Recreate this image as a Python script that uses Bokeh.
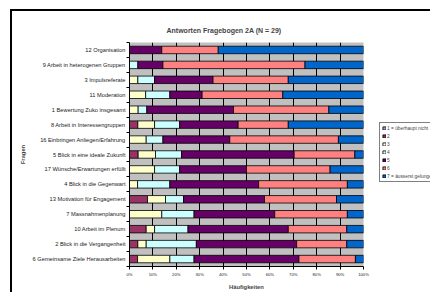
from bokeh.plotting import figure
from bokeh.models import (Range1d, Legend, LegendItem, NumeralTickFormatter,
                          FixedTicker, ColumnDataSource, LinearAxis, CustomJSTickFormatter)
from bokeh.embed import file_html
from bokeh.resources import INLINE

# Questions, top to bottom as shown
categories = [
    "12 Organisation",
    "9 Arbeit in heterogenen Gruppen",
    "3 Impulsreferate",
    "11 Moderation",
    "1 Bewertung Zuko insgesamt",
    "8 Arbeit in Interessengruppen",
    "16 Einbringen Anliegen/Erfahrung",
    "5 Blick in eine ideale Zukunft",
    "17 Wünsche/Erwartungen erfüllt",
    "4 Blick in die Gegenwart",
    "13 Motivation für Engagement",
    "7 Massnahmenplanung",
    "10 Arbeit im Plenum",
    "2 Blick in die Vergangenheit",
    "6 Gemeinsame Ziele Herausarbeiten",
]

# answer counts per rating (1..7), same order as categories
s1 = [0, 0, 0, 0, 0, 0, 0, 0, 0, 0, 0, 0, 0, 0, 0]
s2 = [0, 0, 0, 0, 0, 1, 0, 1, 0, 0, 2, 0, 2, 1, 1]
s3 = [0, 0, 1, 2, 1, 2, 2, 2, 3, 1, 2, 4, 1, 1, 4]
s4 = [0, 1, 2, 3, 1, 3, 2, 3, 3, 4, 2, 4, 4, 6, 3]
s5 = [4, 3, 7, 4, 10, 7, 8, 13, 8, 11, 9, 10, 12, 12, 13]
s6 = [7, 17, 9, 10, 11, 6, 13, 7, 10, 11, 8, 9, 7, 6, 7]
s7 = [18, 7, 9, 10, 4, 9, 3, 1, 4, 2, 3, 2, 2, 2, 1]

series_names = ["1 = überhaupt nicht", "2", "3", "4", "5", "6", "7 = äusserst gelungen"]
colors = ["#9999FF", "#993366", "#FFFFCC", "#CCFFFF", "#660066", "#FF8080", "#0066CC"]
x_ticks = [0, 0.1, 0.2, 0.3, 0.4, 0.5, 0.6, 0.7, 0.8, 0.9, 1.0]

n = len(categories)
series = [s1, s2, s3, s4, s5, s6, s7]
keys = ["s1", "s2", "s3", "s4", "s5", "s6", "s7"]
totals = [sum(s[i] for s in series) for i in range(n)]
ypos = [n - i - 0.5 for i in range(n)]  # first category at the top
data = {"cat": categories, "y": ypos}
for k, s in zip(keys, series):
    data[k] = [v / t for v, t in zip(s, totals)]
source = ColumnDataSource(data)

FONT = "Liberation Sans"

p = figure(
    y_range=Range1d(0, n),
    x_range=Range1d(0, 1),
    frame_width=234, frame_height=224,
    min_border_left=117, min_border_right=67, min_border_top=31, min_border_bottom=26,
    output_backend="svg", toolbar_location=None,
    title="Antworten Fragebogen 2A (N = 29)",
)
p.styles = {"margin-left": "10px", "margin-top": "9px",
            "border-left": "2px solid black", "border-top": "2px solid black"}
p.background_fill_color = "#C0C0C0"
p.border_fill_color = "white"
p.outline_line_color = None

p.title.text_font = FONT
p.title.text_font_size = "7px"
p.title.text_font_style = "bold"
p.title.align = "left"
p.title.offset = 37
p.title.standoff = 17

renderers = p.hbar_stack(keys, y="y", height=0.5, color=colors, source=source,
                         line_color="black", line_width=0.8)

p.ygrid.grid_line_color = None
p.xgrid.grid_line_color = "#000000"
p.xgrid.grid_line_width = 1
p.xgrid.ticker = FixedTicker(ticks=x_ticks)

p.xaxis.ticker = FixedTicker(ticks=x_ticks)
p.xaxis.formatter = NumeralTickFormatter(format="0%")
p.xaxis.major_label_text_font_size = "4.2px"
p.xaxis.major_label_text_font = FONT
p.xaxis.major_label_text_color = "#222222"
p.xaxis.major_tick_out = 3
p.xaxis.major_tick_in = 0
p.xaxis.minor_tick_line_color = None
p.xaxis.major_label_standoff = 2
p.xaxis.axis_label = "Häufigkeiten"
p.xaxis.axis_label_text_font = FONT
p.xaxis.axis_label_text_font_size = "5.8px"
p.xaxis.axis_label_text_font_style = "bold"
p.xaxis.axis_label_standoff = 4
p.xaxis.axis_line_color = "black"

# category labels axis
cat_axis = p.yaxis[0]
cat_axis.ticker = FixedTicker(ticks=ypos)
cat_axis.major_label_overrides = {y: c for y, c in zip(ypos, categories)}
cat_axis.major_label_text_font_size = "5.7px"
cat_axis.major_label_text_font = FONT
cat_axis.major_label_text_color = "#222222"
cat_axis.major_tick_out = 0
cat_axis.major_tick_in = 0
cat_axis.major_tick_line_color = None
cat_axis.minor_tick_line_color = None
cat_axis.major_label_standoff = 1
cat_axis.axis_label = "Fragen"
cat_axis.axis_label_text_font = FONT
cat_axis.axis_label_text_font_size = "5.8px"
cat_axis.axis_label_text_font_style = "bold"
cat_axis.axis_label_standoff = 4
cat_axis.axis_line_color = None

# tick marks between categories (as in the reference), without labels
tick_axis = LinearAxis(ticker=FixedTicker(ticks=list(range(n + 1))),
                       formatter=CustomJSTickFormatter(code="return ''"))
tick_axis.major_label_standoff = 0
tick_axis.major_label_text_font_size = "5px"
tick_axis.major_tick_out = 3
tick_axis.major_tick_in = 0
tick_axis.minor_tick_line_color = None
tick_axis.axis_line_color = "black"
tick_axis.major_tick_line_color = "black"
p.add_layout(tick_axis, "left")
p.left = [tick_axis, cat_axis]

legend = Legend(
    items=[LegendItem(label=nm, renderers=[r]) for nm, r in zip(series_names, renderers)],
    location=(16, 84),
    label_text_font=FONT, label_text_font_size="4.8px",
    glyph_width=4, glyph_height=4, label_height=6, label_standoff=1,
    spacing=2, padding=2, margin=0,
    border_line_color="black", border_line_width=1,
    background_fill_color="white", background_fill_alpha=1,
)
p.add_layout(legend, "right")

open("out.html", "w").write(file_html(p, INLINE))
